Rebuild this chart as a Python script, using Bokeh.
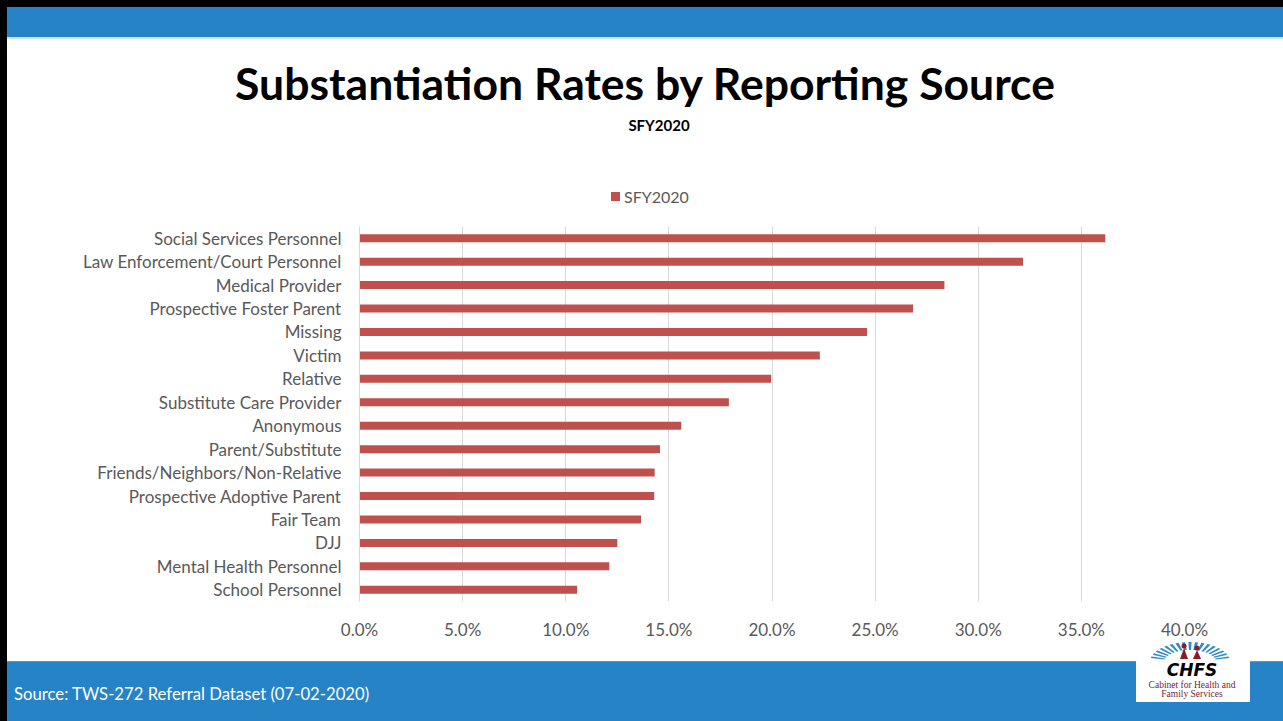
import math
from bokeh.plotting import figure
from bokeh.layouts import row, column
from bokeh.models import (FactorRange, Range1d, NumeralTickFormatter, FixedTicker,
                          ColumnDataSource, Div)
from bokeh.embed import file_html
from bokeh.resources import INLINE

# ---------------- data ----------------
categories = [
    "Social Services Personnel",
    "Law Enforcement/Court Personnel",
    "Medical Provider",
    "Prospective Foster Parent",
    "Missing",
    "Victim",
    "Relative",
    "Substitute Care Provider",
    "Anonymous",
    "Parent/Substitute",
    "Friends/Neighbors/Non-Relative",
    "Prospective Adoptive Parent",
    "Fair Team",
    "DJJ",
    "Mental Health Personnel",
    "School Personnel",
]
rates = [0.3616, 0.3217, 0.2836, 0.2684, 0.2461, 0.2232, 0.1996, 0.1791,
         0.1560, 0.1457, 0.1431, 0.1429, 0.1365, 0.1250, 0.1211, 0.1055]
x_ticks = [0.0, 0.05, 0.10, 0.15, 0.20, 0.25, 0.30, 0.35, 0.40]
series_name = "SFY2020"
title_text = "Substantiation Rates by Reporting Source"
subtitle_text = "SFY2020"
source_text = "Source: TWS-272 Referral Dataset (07-02-2020)"
logo_name = "CHFS"
logo_line1 = "Cabinet for Health and"
logo_line2 = "Family Services"

# ---------------- style ----------------
BLUE = "#2683C6"
BAR = "#C0504D"
GRAY = "#595959"
GRID = "#D9D9D9"
FONT = "Lato"
STRIP = 7                 # black left edge
W = 1283 - STRIP          # content width
MAIN_TOP, MAIN_BOT = 206, 642
TOP_H = MAIN_TOP
BOT_H = 721 - MAIN_BOT
FRAME_L, FRAME_R, FRAME_T, FRAME_B = 359, 1184, 226, 605

# ---------------- main chart ----------------
source = ColumnDataSource(dict(cat=categories, rate=rates))
p = figure(width=W, height=MAIN_BOT - MAIN_TOP, title=None,
           y_range=FactorRange(factors=categories[::-1]),
           x_range=Range1d(0, 0.40),
           output_backend="svg", toolbar_location=None,
           min_border_left=FRAME_L - STRIP, min_border_right=1283 - FRAME_R,
           min_border_top=FRAME_T - MAIN_TOP, min_border_bottom=MAIN_BOT - FRAME_B)
p.outline_line_color = None

bars = p.hbar(y="cat", right="rate", left=0, height=0.34, source=source,
              fill_color=BAR, line_color=None)

p.xaxis.ticker = FixedTicker(ticks=x_ticks)
p.xaxis.formatter = NumeralTickFormatter(format="0.0%")
p.xaxis.axis_line_color = None
p.xaxis.major_tick_line_color = None
p.xaxis.minor_tick_line_color = None
p.xaxis.major_tick_out = 0
p.xaxis.major_tick_in = 0
p.xaxis.major_label_standoff = 17
p.xaxis.major_label_text_font = FONT
p.xaxis.major_label_text_font_size = "17px"
p.xaxis.major_label_text_color = GRAY

p.yaxis.axis_line_color = GRID
p.yaxis.major_tick_line_color = None
p.yaxis.minor_tick_line_color = None
p.yaxis.major_tick_out = 0
p.yaxis.major_tick_in = 0
p.yaxis.major_label_standoff = 18
p.yaxis.major_label_text_font = FONT
p.yaxis.major_label_text_font_size = "17px"
p.yaxis.major_label_text_color = GRAY

p.xgrid.grid_line_color = GRID
p.ygrid.grid_line_color = None


def lx(x):
    return x - STRIP


def svg_text(x, y, text, font, size, color, weight="normal", style="normal", anchor="start"):
    css = (f"font-family:'{font}';font-size:{size};font-weight:{weight};"
           f"font-style:{style};fill:{color}")
    return (f'<text x="{x}" y="{y}" text-anchor="{anchor}" dominant-baseline="central" '
            f'style="{css}">{text}</text>')


# ---------------- top: bands, titles, legend (inline svg) ----------------
top_svg = (
    f'<svg xmlns="http://www.w3.org/2000/svg" width="{W}" height="{TOP_H}" '
    f'style="position:absolute;left:0;top:0">'
    f'<rect x="0" y="0" width="{W}" height="7" fill="black"/>'
    f'<rect x="0" y="7" width="{W}" height="30" fill="{BLUE}"/>'
    f'<rect x="0" y="37" width="{W}" height="2" fill="#CFE6F5"/>'
    + svg_text(lx(645), 82, title_text, FONT, "44.5px", "black", weight="bold", anchor="middle")
    + svg_text(lx(659), 125, subtitle_text, FONT, "15px", "black", weight="bold", anchor="middle")
    + f'<rect x="{lx(611)}" y="192" width="9" height="9" fill="{BAR}"/>'
    + svg_text(lx(624), 196.5, series_name, FONT, "16px", GRAY)
    + '</svg>'
)
top_html = f'<div style="width:{W}px;height:{TOP_H}px;position:relative;overflow:hidden">{top_svg}</div>'
top = Div(text=top_html, width=W, height=TOP_H, margin=0)

strip = Div(width=STRIP, height=721, margin=0,
            styles={"background-color": "black"})

# ---------------- bottom: band, source, logo (inline svg) ----------------
Y0 = MAIN_BOT


def ly(y):
    return y - Y0


rays = []
fcx, fcy = lx(1190), ly(662)
for i in range(17):
    a = math.radians(14 + i * 9.5)
    da = math.radians(2.3)
    pts = [(26, 12, a - da), (40, 20, a - da), (40, 20, a + da), (26, 12, a + da)]
    s = " ".join(f"{fcx + rx * math.cos(t):.1f},{fcy - ry * math.sin(t):.1f}" for rx, ry, t in pts)
    rays.append(f'<polygon points="{s}" fill="#2E8BC9"/>')

RED = "#8B1C24"
fam = (
    f'<circle cx="{lx(1184)}" cy="{ly(646)}" r="2.5" fill="{RED}"/>'
    f'<circle cx="{lx(1197)}" cy="{ly(648)}" r="2.5" fill="{RED}"/>'
    f'<polygon points="{lx(1180)},{ly(659)} {lx(1188)},{ly(659)} {lx(1184)},{ly(648)}" fill="{RED}"/>'
    f'<polygon points="{lx(1193)},{ly(659)} {lx(1201)},{ly(659)} {lx(1197)},{ly(650)}" fill="{RED}"/>'
)

bot_svg = (
    f'<svg xmlns="http://www.w3.org/2000/svg" width="{W}" height="{BOT_H}" '
    f'style="position:absolute;left:0;top:0">'
    f'<rect x="0" y="{ly(661)}" width="{W}" height="{BOT_H - ly(661)}" fill="{BLUE}"/>'
    f'<rect x="0" y="{ly(661)}" width="{W}" height="1" fill="#4F9BD4"/>'
    + svg_text(lx(14), ly(694), source_text, FONT, "16.7px", "white")
    + f'<rect x="{lx(1136)}" y="{ly(645)}" width="114" height="57" fill="white"/>'
    + "".join(rays) + fam
    + svg_text(lx(1192), ly(670), logo_name, "DejaVu Sans", "17px", "black",
               weight="bold", style="italic", anchor="middle")
    + svg_text(lx(1192), ly(685), logo_line1, "Liberation Serif", "9.5px", "#7A2434", anchor="middle")
    + svg_text(lx(1192), ly(694), logo_line2, "Liberation Serif", "9.5px", "#7A2434", anchor="middle")
    + '</svg>'
)
bot_html = f'<div style="width:{W}px;height:{BOT_H}px;position:relative;overflow:hidden">{bot_svg}</div>'
bot = Div(text=bot_html, width=W, height=BOT_H, margin=0)

layout = row(strip, column(top, p, bot, spacing=0), spacing=0)
open("out.html", "w").write(file_html(layout, INLINE))
